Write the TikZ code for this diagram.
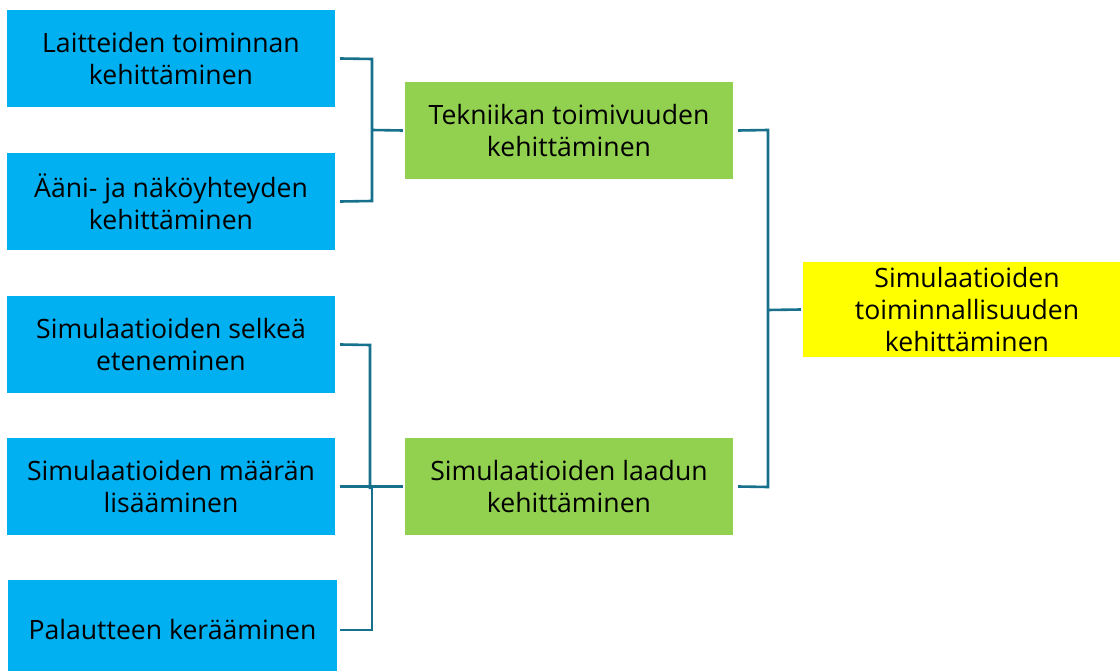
\documentclass[tikz,border=0pt]{standalone}
\usepackage{fontspec}
\setmainfont{Open Sans}
\begin{document}
\begin{tikzpicture}[x=1pt,y=-1pt,
  box/.style={rectangle, minimum width=328pt, minimum height=97pt, inner sep=0pt,
    align=center, font=\fontsize{26.6}{32}\selectfont, text=black},
  bluebox/.style={box, fill=skyblue},
  greenbox/.style={box, fill=leafgreen},
  yellowbox/.style={box, fill=pureyellow, minimum height=95pt},
  link/.style={draw=linkteal, line width=2.6pt}]
\definecolor{skyblue}{HTML}{00B0F0}
\definecolor{leafgreen}{HTML}{92D050}
\definecolor{pureyellow}{HTML}{FFFF00}
\definecolor{linkteal}{HTML}{17708C}
\useasboundingbox (0,0) rectangle (1120,671);
\clip (0,0) rectangle (1120,671);

% leaf tasks
\node[bluebox] (b1) at (171,58.5) {Laitteiden toiminnan\\kehittäminen};
\node[bluebox] (b2) at (171,201.5) {Ääni- ja näköyhteyden\\kehittäminen};
\node[bluebox] (b3) at (171,344.5) {Simulaatioiden selkeä\\eteneminen};
\node[bluebox] (b4) at (171,486.5) {Simulaatioiden määrän\\lisääminen};
\node[bluebox, minimum width=329pt, minimum height=100pt] (b5) at (172.5,630) {Palautteen kerääminen};

% intermediate goals
\node[greenbox] (g1) at (569,130.5) {Tekniikan toimivuuden\\kehittäminen};
\node[greenbox] (g2) at (569,486.5) {Simulaatioiden laadun\\kehittäminen};

% main goal
\node[yellowbox] (y) at (967,309.5) {Simulaatioiden\\toiminnallisuuden\\kehittäminen};

% junction points
\coordinate (j1a) at (372,59);
\coordinate (j1b) at (372,201);
\coordinate (j1m) at (372,130);
\coordinate (j2a) at (370,345);
\coordinate (j2b) at (370,489);
\coordinate (j2c) at (372,486);
\coordinate (j2d) at (372,630);
\coordinate (j3a) at (768,130);
\coordinate (j3b) at (768,487);
\coordinate (j3m) at (768,310);

% brackets to the technical goal
\draw[link] ([xshift=5pt]b1.east) -- (j1a) -- (j1b) -- ([xshift=5pt]b2.east);
\draw[link] (j1m) -- ([xshift=-2pt]g1.west);

% brackets to the quality goal
\draw[link] ([xshift=5pt]b3.east) -- (j2a) -- (j2b);
\draw[link] ([xshift=5pt]b4.east) -- ([xshift=-2pt]g2.west);
\draw[link] (j2c) -- (j2d) -- ([xshift=3pt]b5.east);

% bracket to the main goal
\draw[link] ([xshift=5pt]g1.east) -- (j3a) -- (j3b) -- ([xshift=5pt]g2.east);
\draw[link] (j3m) -- ([xshift=-2pt]y.west);
\end{tikzpicture}
\end{document}
